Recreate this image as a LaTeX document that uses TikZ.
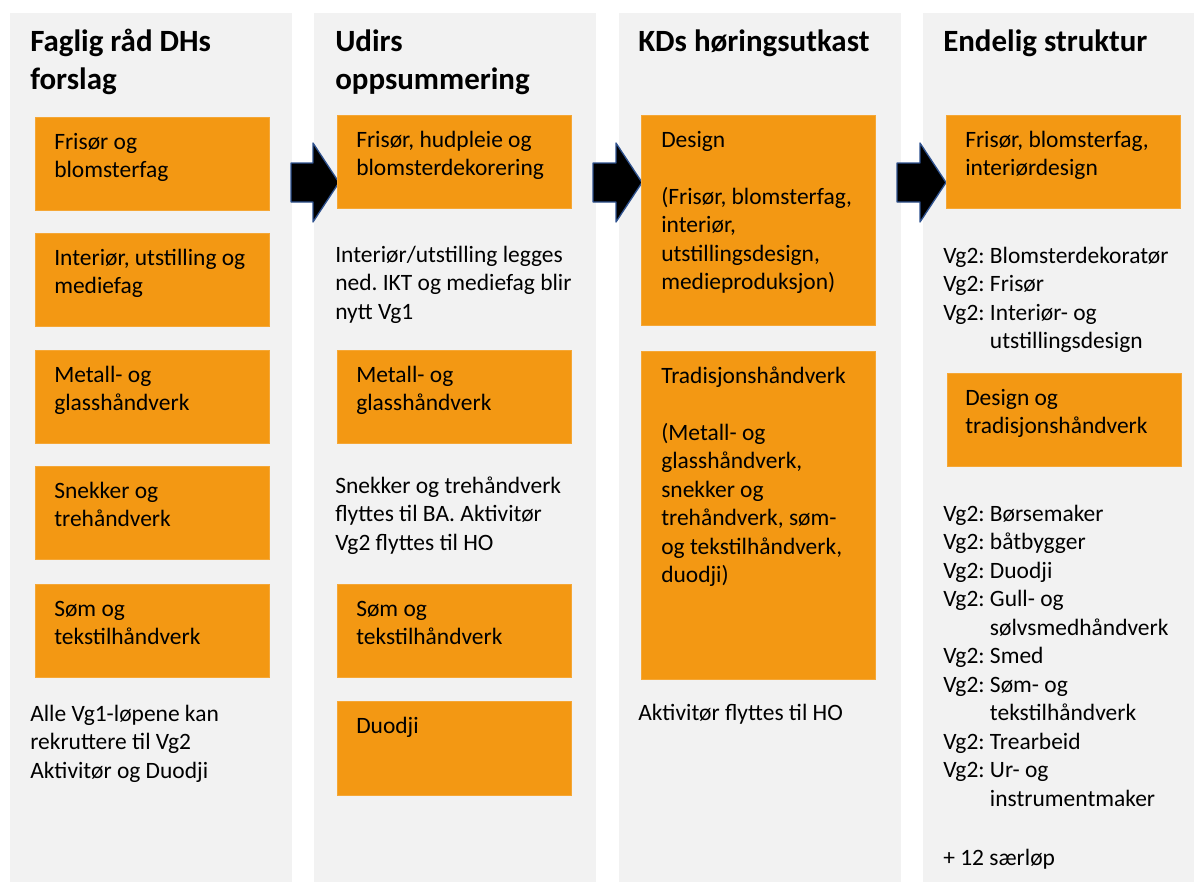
\documentclass[tikz,border=0pt]{standalone}
\usepackage{fontspec}
\setmainfont{Carlito}
\usepackage{xcolor}
\frenchspacing

\definecolor{bakgrunn}{RGB}{242,242,242}
\definecolor{oransje}{RGB}{243,152,19}
\definecolor{pilkant}{RGB}{47,82,143}

\newcommand{\linjer}[1]{\begin{tabular}[t]{@{}l@{}}#1\end{tabular}}

\tikzset{
  kol/.style={fill=bakgrunn},
  pil/.style={fill=black, draw=pilkant, line width=1pt, line join=round},
  boks/.style={fill=oransje, draw=oransje!85!white, line width=0.4pt, anchor=north west,
    inner sep=0pt, minimum width=175.5pt},
  tekst/.style={anchor=base west, inner sep=0pt, text=black,
    font=\fontsize{17.6}{21.4}\selectfont},
  tittel/.style={anchor=base west, inner sep=0pt, text=black,
    font=\fontsize{23.2}{28.8}\selectfont\bfseries},
}

\begin{document}
\begin{tikzpicture}[x=0.75pt,y=0.75pt,yscale=-1,xscale=1]
  \path[use as bounding box, fill=white] (0,0) rectangle (1194,882);

  %Shape: Rectangle (columns)
  \fill[kol] (10,13) rectangle (292,882);
  \fill[kol] (314,13) rectangle (596,882);
  \fill[kol] (619,13) rectangle (901,882);
  \fill[kol] (923,13) rectangle (1194,882);

  %Shape: Right Arrow
  \draw[pil] (291,163) -- (313,163) -- (313,143) -- (339,182.5) -- (313,222) -- (313,202) -- (291,202) -- cycle;
  %Shape: Right Arrow
  \draw[pil] (593,163) -- (616,163) -- (616,143) -- (642,182.5) -- (616,222) -- (616,202) -- (593,202) -- cycle;
  %Shape: Right Arrow
  \draw[pil] (897,163) -- (920,163) -- (920,143) -- (946,182.5) -- (920,222) -- (920,202) -- (897,202) -- cycle;

  % Text Node
  \node[tittel] (t1) at (30,51) {\linjer{Faglig råd DHs\\forslag}};
  % Text Node
  \node[tittel] (t2) at (335,51) {\linjer{Udirs\\oppsummering}};
  % Text Node
  \node[tittel] (t3) at (638,51) {KDs høringsutkast};
  % Text Node
  \node[tittel] (t4) at (943,51) {Endelig struktur};

  %Shape: Rectangle
  \node[boks, minimum height=69.75pt] (a1) at (35,117) {};
  \node[tekst] (a1t) at ([shift={(19,32)}]a1.north west) {\linjer{Frisør og\\blomsterfag}};
  %Shape: Rectangle
  \node[boks, minimum height=69.75pt] (a2) at (35,233) {};
  \node[tekst] (a2t) at ([shift={(19,32)}]a2.north west) {\linjer{Interiør, utstilling og\\mediefag}};
  %Shape: Rectangle
  \node[boks, minimum height=69.75pt] (a3) at (35,350) {};
  \node[tekst] (a3t) at ([shift={(19,32)}]a3.north west) {\linjer{Metall- og\\glasshåndverk}};
  %Shape: Rectangle
  \node[boks, minimum height=69.75pt] (a4) at (35,466) {};
  \node[tekst] (a4t) at ([shift={(19,32)}]a4.north west) {\linjer{Snekker og\\trehåndverk}};
  %Shape: Rectangle
  \node[boks, minimum height=69.75pt] (a5) at (35,584) {};
  \node[tekst] (a5t) at ([shift={(19,32)}]a5.north west) {\linjer{Søm og\\tekstilhåndverk}};
  % Text Node
  \node[tekst] (a6) at (30,721) {\linjer{Alle Vg1-løpene kan\\rekruttere til Vg2\\Aktivitør og Duodji}};

  %Shape: Rectangle
  \node[boks, minimum height=69.75pt] (b1) at (337,115) {};
  \node[tekst] (b1t) at ([shift={(19,32)}]b1.north west) {\linjer{Frisør, hudpleie og\\blomsterdekorering}};
  % Text Node
  \node[tekst] (b2) at (335,262) {\linjer{Interiør/utstilling legges\\ned. IKT og mediefag blir\\nytt Vg1}};
  %Shape: Rectangle
  \node[boks, minimum height=69.75pt] (b3) at (337,350) {};
  \node[tekst] (b3t) at ([shift={(19,32)}]b3.north west) {\linjer{Metall- og\\glasshåndverk}};
  % Text Node
  \node[tekst] (b4) at (335,493) {\linjer{Snekker og trehåndverk\\flyttes til BA. Aktivitør\\Vg2 flyttes til HO}};
  %Shape: Rectangle
  \node[boks, minimum height=69.75pt] (b5) at (337,584) {};
  \node[tekst] (b5t) at ([shift={(19,32)}]b5.north west) {\linjer{Søm og\\tekstilhåndverk}};
  %Shape: Rectangle
  \node[boks, minimum height=70.5pt] (b6) at (337,701) {};
  \node[tekst] (b6t) at ([shift={(19,32)}]b6.north west) {Duodji};

  %Shape: Rectangle
  \node[boks, minimum height=157.5pt] (c1) at (641,115) {};
  \node[tekst] (c1t) at ([shift={(20,32)}]c1.north west) {\linjer{Design\\[21.4pt](Frisør, blomsterfag,\\interiør,\\utstillingsdesign,\\medieproduksjon)}};
  %Shape: Rectangle
  \node[boks, minimum height=246pt] (c2) at (641,351) {};
  \node[tekst] (c2t) at ([shift={(20,32)}]c2.north west) {\linjer{Tradisjonshåndverk\\[21.4pt](Metall- og\\glasshåndverk,\\snekker og\\trehåndverk, søm-\\og tekstilhåndverk,\\duodji)}};
  % Text Node
  \node[tekst] (c3) at (638,720) {Aktivitør flyttes til HO};

  %Shape: Rectangle
  \node[boks, minimum height=69.75pt] (d1) at (946,115) {};
  \node[tekst] (d1t) at ([shift={(19,32)}]d1.north west) {\linjer{Frisør, blomsterfag,\\interiørdesign}};
  % Text Node
  \node[tekst] (d2) at (943,263) {\linjer{Vg2: Blomsterdekoratør\\Vg2: Frisør\\Vg2: Interiør- og\\\hphantom{Vg2: }utstillingsdesign}};
  %Shape: Rectangle
  \node[boks, minimum height=69.75pt] (d3) at (947,373) {};
  \node[tekst] (d3t) at ([shift={(18,32)}]d3.north west) {\linjer{Design og\\tradisjonshåndverk}};
  % Text Node
  \node[tekst] (d4) at (943,521) {\linjer{Vg2: Børsemaker\\Vg2: båtbygger\\Vg2: Duodji\\Vg2: Gull- og\\\hphantom{Vg2: }sølvsmedhåndverk\\Vg2: Smed\\Vg2: Søm- og\\\hphantom{Vg2: }tekstilhåndverk\\Vg2: Trearbeid\\Vg2: Ur- og\\\hphantom{Vg2: }instrumentmaker\\[23pt]+ 12 særløp}};
\end{tikzpicture}
\end{document}
